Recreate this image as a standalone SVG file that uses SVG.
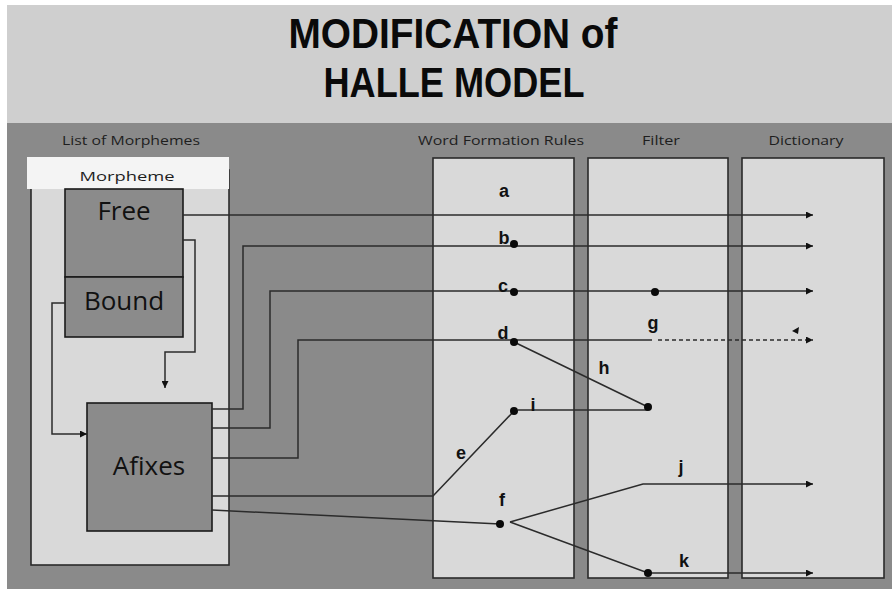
<svg xmlns="http://www.w3.org/2000/svg" width="892" height="589" viewBox="0 0 892 589">
<defs>
<style>
.title{font-family:"Liberation Sans",Arial,sans-serif;font-weight:bold;font-size:42px;fill:#0a0a0a;text-anchor:middle}
.hdr{font-family:"Open Sans","Liberation Sans",sans-serif;font-size:13px;fill:#1e1e1e;text-anchor:middle}
.box{fill:#8b8b8b;stroke:#1a1a1a;stroke-width:1.6}
.panel{fill:#d9d9d9;stroke:#2a2a2a;stroke-width:1.6}
.big{font-family:"Open Sans","Liberation Sans",sans-serif;font-size:26px;fill:#111;text-anchor:middle}
.lbl{font-family:"Liberation Sans",Arial,sans-serif;font-weight:bold;font-size:18px;fill:#111;text-anchor:middle}
.ln{fill:none;stroke:#2b2b2b;stroke-width:1.5}
.dash{fill:none;stroke:#2b2b2b;stroke-width:1.5;stroke-dasharray:4 3}
.dot{fill:#0a0a0a}
</style>
<marker id="arr" viewBox="0 0 10 10" refX="10" refY="5" markerWidth="8" markerHeight="7" markerUnits="userSpaceOnUse" orient="auto">
<path d="M0,0 L10,5 L0,10 z" fill="#111"/>
</marker>
</defs>
<rect x="0" y="0" width="892" height="589" fill="#ffffff"/>
<rect x="7" y="5" width="885" height="118" fill="#cfcfcf"/>
<rect x="7" y="123" width="885" height="466" fill="#8a8a8a"/>
<g id="title">
<text class="title" x="453" y="48" textLength="329" lengthAdjust="spacingAndGlyphs">MODIFICATION of</text>
<text class="title" x="454" y="97" textLength="261" lengthAdjust="spacingAndGlyphs">HALLE MODEL</text>
</g>
<g id="headers">
<text class="hdr" x="131" y="145" textLength="138" lengthAdjust="spacingAndGlyphs">List of Morphemes</text>
<text class="hdr" x="501" y="145" textLength="166" lengthAdjust="spacingAndGlyphs">Word Formation Rules</text>
<text class="hdr" x="661" y="145" textLength="38" lengthAdjust="spacingAndGlyphs">Filter</text>
<text class="hdr" x="806" y="145" textLength="75" lengthAdjust="spacingAndGlyphs">Dictionary</text>
</g>
<g id="list-of-morphemes">
<rect class="panel" x="31" y="170" width="198" height="395"/>
<rect x="27" y="157" width="202" height="32" fill="#f4f4f4"/>
<text class="hdr" x="127" y="181" font-size="14" textLength="95" lengthAdjust="spacingAndGlyphs">Morpheme</text>
</g>
<g id="free">
<rect class="box" x="65" y="189" width="118" height="88"/>
<text class="big" x="124" y="220">Free</text>
</g>
<g id="bound">
<rect class="box" x="65" y="277" width="118" height="60"/>
<text class="big" x="124" y="310">Bound</text>
</g>
<g id="afixes">
<rect class="box" x="87" y="403" width="125" height="128"/>
<text class="big" x="149" y="475">Afixes</text>
</g>
<g id="word-formation-rules">
<rect class="panel" x="433" y="158" width="141" height="420"/>
</g>
<g id="filter">
<rect class="panel" x="588" y="158" width="140" height="420"/>
</g>
<g id="dictionary">
<rect class="panel" x="742" y="158" width="142" height="420"/>
</g>
<g id="connectors">
<path class="ln" d="M183,215 H813" marker-end="url(#arr)"/>
<path class="ln" d="M183,240 H195 V352 H165 V388" marker-end="url(#arr)"/>
<path class="ln" d="M65,303 H52 V434 H87" marker-end="url(#arr)"/>
<path class="ln" d="M212,409 H243 V246 H813" marker-end="url(#arr)"/>
<path class="ln" d="M212,428 H270 V291 H813" marker-end="url(#arr)"/>
<path class="ln" d="M212,458 H298 V340 H652"/>
<path class="dash" d="M658,340 H813" marker-end="url(#arr)"/>
<path d="M792,331 L799,327 L798,334 z" fill="#111"/>
<path class="ln" d="M212,496 H433 L514,411"/>
<path class="ln" d="M518,410 H648"/>
<path class="ln" d="M514,342 L648,407"/>
<path class="ln" d="M212,510 L500,524"/>
<path class="ln" d="M510,522 L643,484 H813" marker-end="url(#arr)"/>
<path class="ln" d="M510,522 L648,573 H813" marker-end="url(#arr)"/>
</g>
<g id="points">
<circle class="dot" cx="514" cy="244" r="4"/>
<circle class="dot" cx="514" cy="292" r="4"/>
<circle class="dot" cx="514" cy="342" r="4"/>
<circle class="dot" cx="655" cy="292" r="4"/>
<circle class="dot" cx="514" cy="411" r="4"/>
<circle class="dot" cx="648" cy="407" r="4"/>
<circle class="dot" cx="500" cy="524" r="4"/>
<circle class="dot" cx="648" cy="573" r="4"/>
</g>
<g id="labels">
<text class="lbl" x="504" y="197">a</text>
<text class="lbl" x="504" y="244">b</text>
<text class="lbl" x="503" y="292">c</text>
<text class="lbl" x="503" y="339">d</text>
<text class="lbl" x="653" y="329">g</text>
<text class="lbl" x="604" y="374">h</text>
<text class="lbl" x="533" y="411">i</text>
<text class="lbl" x="461" y="459">e</text>
<text class="lbl" x="502" y="506">f</text>
<text class="lbl" x="681" y="473">j</text>
<text class="lbl" x="684" y="567">k</text>
</g>
</svg>
